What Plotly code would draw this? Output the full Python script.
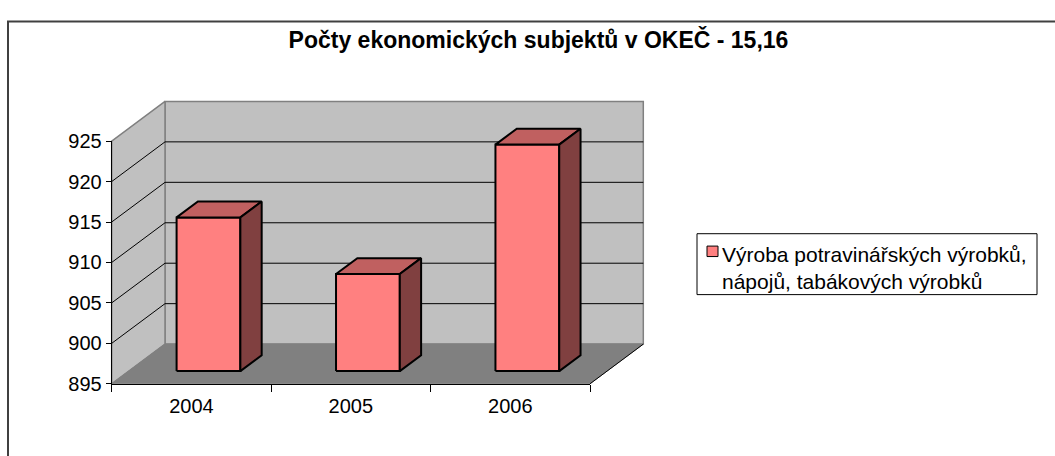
import plotly.graph_objects as go

# ---------------- data ----------------
years = ["2004", "2005", "2006"]
counts = [914, 907, 923]
y_ticks = [895, 900, 905, 910, 915, 920, 925]
series_name = "Výroba potravinářských výrobků,<br>nápojů, tabákových výrobků"
title_text = "Počty ekonomických subjektů v OKEČ - 15,16"

# ---------------- layout constants ----------------
W, H = 1055, 456
PX0, PX1 = 111.7, 590.0      # front floor edge, pixels
PY0, PY1 = 391.7, 136.7      # front y of min / max value, pixels
Y_MIN, Y_MAX = y_ticks[0], y_ticks[-1]
N = len(years)

x_scale = (PX1 - PX0) / N                  # px per category
y_scale = (PY0 - PY1) / (Y_MAX - Y_MIN)    # px per unit
x_range = [-0.5 - PX0 / x_scale, -0.5 + (W - PX0) / x_scale]
y_range = [Y_MIN - (H - PY0) / y_scale, Y_MIN + PY0 / y_scale]

DX = 53.3 / x_scale      # depth offset in category units
DY = 41.7 / y_scale      # depth offset in value units
Z0, Z1 = 0.32, 0.72      # bar depth span
HALF = 0.2               # bar half width

C_WALL = "#C0C0C0"
C_FLOOR = "#808080"
C_EDGE = "#808080"
C_FRONT = "#FF8080"
C_TOP = "#C06060"
C_SIDE = "#804040"

LEG_X0, LEG_X1, LEG_Y0, LEG_Y1 = 697, 1037, 234, 298
SYM_X0, SYM_X1, SYM_Y0, SYM_Y1 = 707, 718, 247, 258


def proj(xc, v, z):
    return xc + z * DX, v + z * DY


def poly(pts):
    xs, ys = [], []
    for p in pts + [pts[0]]:
        a, b = proj(*p)
        xs.append(a)
        ys.append(b)
    return xs, ys


fig = go.Figure()


def add_poly(pts, fill, line_color, line_width):
    xs, ys = poly(pts)
    fig.add_trace(go.Scatter(x=xs, y=ys, mode="lines", fill="toself",
                             fillcolor=fill,
                             line=dict(color=line_color, width=line_width),
                             hoverinfo="skip", showlegend=False))


L, R = -0.5, N - 0.5
# back wall
add_poly([(L, Y_MIN, 1), (R, Y_MIN, 1), (R, Y_MAX, 1), (L, Y_MAX, 1)], C_WALL, C_EDGE, 1.5)
# left wall
add_poly([(L, Y_MIN, 0), (L, Y_MIN, 1), (L, Y_MAX, 1), (L, Y_MAX, 0)], C_WALL, C_EDGE, 1.5)
# floor
add_poly([(L, Y_MIN, 0), (R, Y_MIN, 0), (R, Y_MIN, 1), (L, Y_MIN, 1)], C_FLOOR, C_FLOOR, 1)

# floor right edge
xa, ya = proj(R, Y_MIN, 0)
xb, yb = proj(R, Y_MIN, 1)
fig.add_trace(go.Scatter(x=[xa, xb], y=[ya, yb], mode="lines",
                         line=dict(color="#000000", width=1),
                         hoverinfo="skip", showlegend=False))

# gridlines (left wall diagonal + back wall horizontal)
gx, gy = [], []
for v in y_ticks[1:-1]:
    for p in [(L, v, 0), (L, v, 1), (R, v, 1)]:
        a, b = proj(*p)
        gx.append(a)
        gy.append(b)
    gx.append(None)
    gy.append(None)
fig.add_trace(go.Scatter(x=gx, y=gy, mode="lines",
                         line=dict(color="#000000", width=1),
                         hoverinfo="skip", showlegend=False))

# bars
for i, v in enumerate(counts):
    c = i
    add_poly([(c - HALF, Y_MIN, Z0), (c + HALF, Y_MIN, Z0), (c + HALF, v, Z0), (c - HALF, v, Z0)],
             C_FRONT, "#000000", 2)
    add_poly([(c - HALF, v, Z0), (c + HALF, v, Z0), (c + HALF, v, Z1), (c - HALF, v, Z1)],
             C_TOP, "#000000", 2)
    add_poly([(c + HALF, Y_MIN, Z0), (c + HALF, Y_MIN, Z1), (c + HALF, v, Z1), (c + HALF, v, Z0)],
             C_SIDE, "#000000", 2)

# legend entry (text from the legend, swatch drawn as a shape)
fig.add_trace(go.Scatter(x=[None], y=[None], mode="markers", name=series_name,
                         marker=dict(symbol="square", size=11, color="rgba(0,0,0,0)",
                                     line=dict(color="rgba(0,0,0,0)", width=0)),
                         showlegend=True))

# axis-carrying trace (invisible) for the front axes
fig.add_trace(go.Scatter(x=years, y=counts, xaxis="x2", yaxis="y2", mode="markers",
                         marker=dict(opacity=0), hoverinfo="skip", showlegend=False))

font_family = "Liberation Sans, Arial, sans-serif"

fig.update_layout(
    width=W, height=H,
    margin=dict(l=0, r=0, t=0, b=0),
    paper_bgcolor="#FFFFFF",
    plot_bgcolor="rgba(0,0,0,0)",
    font=dict(family=font_family, color="#000000", size=20),
    title=dict(text="<b>" + title_text + "</b>", x=538.5 / W, xanchor="center",
               y=1 - 40 / H, yanchor="middle",
               font=dict(family=font_family, size=23, color="#000000")),
    xaxis=dict(range=x_range, domain=[0, 1], visible=False, fixedrange=True),
    yaxis=dict(range=y_range, domain=[0, 1], visible=False, fixedrange=True),
    xaxis2=dict(type="category", categoryarray=years, categoryorder="array",
                range=[-0.5, N - 0.5], domain=[PX0 / W, PX1 / W], anchor="y2",
                showline=True, linecolor="#000000", linewidth=1,
                ticks="outside", ticklen=7, tickcolor="#000000", tickson="boundaries",
                showgrid=False, zeroline=False, fixedrange=True,
                tickfont=dict(size=20, color="#000000"), ticklabelstandoff=4),
    yaxis2=dict(range=[Y_MIN, Y_MAX], domain=[1 - PY0 / H, 1 - PY1 / H], anchor="x2",
                tickvals=y_ticks, showline=True, linecolor="#000000", linewidth=1,
                ticks="outside", ticklen=5, tickcolor="#000000",
                showgrid=False, zeroline=False, fixedrange=True,
                tickfont=dict(size=20, color="#000000")),
    showlegend=True,
    legend=dict(x=LEG_X0 / W, xanchor="left", y=1 - LEG_Y0 / H, yanchor="top",
                bgcolor="rgba(0,0,0,0)", borderwidth=0, indentation=-15,
                font=dict(family=font_family, size=21, color="#000000"),
                valign="top", itemsizing="trace"),
    shapes=[
        dict(type="rect", xref="paper", yref="paper",
             x0=LEG_X0 / W, x1=LEG_X1 / W, y0=1 - LEG_Y1 / H, y1=1 - LEG_Y0 / H,
             line=dict(color="#000000", width=1), fillcolor="#FFFFFF", layer="above"),
        dict(type="rect", xref="paper", yref="paper",
             x0=SYM_X0 / W, x1=SYM_X1 / W, y0=1 - SYM_Y1 / H, y1=1 - SYM_Y0 / H,
             line=dict(color="#000000", width=1), fillcolor=C_FRONT, layer="above"),
        dict(type="rect", xref="paper", yref="paper",
             x0=8 / W, x1=1.2, y0=-0.2, y1=1 - 11 / H,
             line=dict(color="#404040", width=2), fillcolor="rgba(0,0,0,0)",
             layer="above"),
    ],
)

fig.write_html("out.html", config={"displayModeBar": False},
               post_script="document.body.style.margin='0';")
